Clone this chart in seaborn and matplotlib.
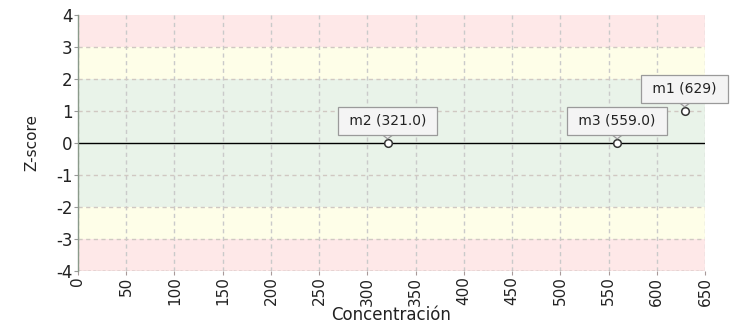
import matplotlib
matplotlib.use("Agg")
import matplotlib.pyplot as plt
import seaborn as sns
import pandas as pd

# Results per sample
samples = ["m1", "m2", "m3"]
concentration = [629, 321, 559]
zscore = [1.0, 0.0, 0.0]
point_labels = ["m1 (629)", "m2 (321.0)", "m3 (559.0)"]

x_ticks = list(range(0, 651, 50))
y_ticks = list(range(-4, 5))

# Acceptance bands (lower, upper, colour)
band_low = [-4, -3, -2, 2, 3]
band_high = [-3, -2, 2, 3, 4]
band_colors = ["#fee8e8", "#fefee8", "#e9f3e9", "#fefee8", "#fee8e8"]

df = pd.DataFrame({"sample": samples, "Concentración": concentration,
                   "Z-score": zscore, "label": point_labels})

sns.set_theme(style="white")
plt.rcParams["font.family"] = ["DejaVu Sans"]
plt.rcParams["axes.unicode_minus"] = False

fig = plt.figure(figsize=(7.37, 3.31), dpi=100)
ax = fig.add_axes([0.1058, 0.1813, 0.8508, 0.7734])

for lo, hi, c in zip(band_low, band_high, band_colors):
    ax.axhspan(lo, hi, color=c, lw=0, zorder=0)

dash = (0, (3, 2.5))
for xv in x_ticks:
    ax.axvline(xv, color="#cacaca", lw=1.0, ls=dash, zorder=1)
for yv in y_ticks:
    if yv not in (0, 4):
        ax.axhline(yv, color="#d0c8c2", lw=1.0, ls=dash, zorder=1)
ax.axhline(-4, color="#a89a9a", lw=1.0, ls=(0, (2, 1.5)), zorder=1)
ax.axhline(0, color="black", lw=1.0, zorder=2)

sns.scatterplot(data=df, x="Concentración", y="Z-score", ax=ax,
                marker="o", s=30, facecolor="white", edgecolor="#333333",
                linewidth=1.1, zorder=5, legend=False, clip_on=False)

for xv, yv, lab in zip(df["Concentración"], df["Z-score"], df["label"]):
    ax.annotate(f" {lab} ", xy=(xv, yv), xytext=(0, 16), textcoords="offset points",
                ha="center", va="center", fontsize=10, color="#222222",
                bbox=dict(boxstyle="square,pad=0.5", fc="#f4f4f4", ec="#9a9a9a", lw=0.9),
                arrowprops=dict(arrowstyle="wedge,tail_width=0.7,shrink_factor=0.5",
                                fc="#f4f4f4", ec="#9a9a9a", lw=0.9, shrinkA=0, shrinkB=3),
                zorder=6, annotation_clip=False)

ax.set_xlim(0, 650)
ax.set_ylim(-4, 4)
ax.set_xticks(x_ticks)
ax.set_xticklabels([str(v) for v in x_ticks], rotation=90)
ax.set_yticks(y_ticks)
ax.tick_params(axis="x", labelsize=11, colors="#222222", length=3, width=0.8,
               bottom=True, pad=1, color="#a89a9a")
ax.tick_params(axis="y", labelsize=12, colors="#222222", length=3, width=0.8,
               left=True, pad=1, color="#999999")

for s in ["top", "right", "bottom"]:
    ax.spines[s].set_visible(False)
ax.spines["left"].set_color("#8a9a8a")
ax.spines["left"].set_linewidth(1.0)

ax.set_xlabel("Concentración", fontsize=12, color="#222222", labelpad=0)
ax.set_ylabel("Z-score", fontsize=11, color="#222222", labelpad=12)

fig.savefig("out.png", dpi=100)
